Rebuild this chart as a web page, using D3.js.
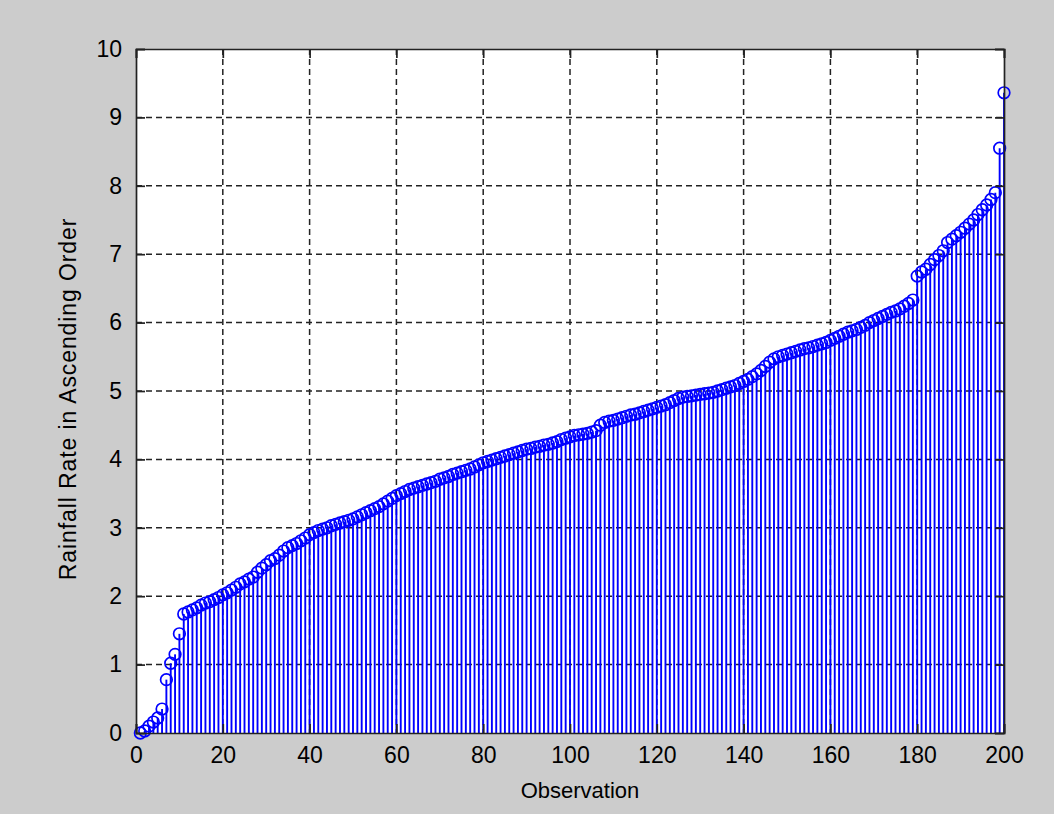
<!DOCTYPE html>
<html>
<head>
<meta charset="utf-8">
<script src="https://cdn.jsdelivr.net/npm/d3@7"></script>
<style>
  html, body { margin: 0; padding: 0; background: #cccccc; }
  svg { display: block; }
  text { font-family: "Liberation Sans", Arial, sans-serif; fill: #000; }
</style>
</head>
<body>
<svg id="chart"></svg>
<script>
// sorted rainfall rates, one per observation (1..200)
const rainfall = [
  0.00, 0.03, 0.10, 0.16, 0.22, 0.35, 0.78, 1.02, 1.15, 1.45,
  1.74, 1.77, 1.80, 1.83, 1.87, 1.90, 1.92, 1.95, 1.98, 2.02,
  2.05, 2.09, 2.13, 2.18, 2.21, 2.25, 2.28, 2.35, 2.41, 2.46,
  2.52, 2.55, 2.60, 2.66, 2.71, 2.74, 2.77, 2.81, 2.85, 2.90,
  2.93, 2.96, 2.98, 3.00, 3.03, 3.05, 3.07, 3.09, 3.11, 3.13,
  3.16, 3.19, 3.22, 3.25, 3.28, 3.31, 3.35, 3.39, 3.43, 3.47,
  3.50, 3.53, 3.56, 3.58, 3.60, 3.62, 3.64, 3.66, 3.68, 3.71,
  3.73, 3.75, 3.78, 3.80, 3.82, 3.84, 3.86, 3.89, 3.92, 3.95,
  3.97, 3.99, 4.01, 4.03, 4.05, 4.07, 4.09, 4.11, 4.13, 4.15,
  4.16, 4.18, 4.19, 4.21, 4.22, 4.24, 4.26, 4.29, 4.31, 4.33,
  4.35, 4.36, 4.37, 4.38, 4.40, 4.42, 4.50, 4.54, 4.56, 4.57,
  4.59, 4.61, 4.63, 4.65, 4.66, 4.68, 4.70, 4.72, 4.74, 4.76,
  4.78, 4.80, 4.83, 4.86, 4.89, 4.91, 4.92, 4.93, 4.94, 4.95,
  4.96, 4.97, 4.98, 5.00, 5.02, 5.04, 5.06, 5.08, 5.11, 5.14,
  5.17, 5.21, 5.25, 5.30, 5.36, 5.42, 5.47, 5.50, 5.52, 5.54,
  5.56, 5.58, 5.60, 5.62, 5.63, 5.65, 5.67, 5.69, 5.71, 5.74,
  5.77, 5.80, 5.83, 5.86, 5.88, 5.90, 5.93, 5.96, 6.00, 6.03,
  6.06, 6.09, 6.12, 6.15, 6.17, 6.20, 6.24, 6.28, 6.33, 6.68,
  6.74, 6.78, 6.85, 6.92, 6.98, 7.05, 7.17, 7.22, 7.27, 7.32,
  7.38, 7.44, 7.50, 7.58, 7.65, 7.72, 7.80, 7.90, 8.55, 9.36
]
const observations = rainfall.map((d, i) => i + 1)
const xTicks = [0, 20, 40, 60, 80, 100, 120, 140, 160, 180, 200]
const yTicks = [0, 1, 2, 3, 4, 5, 6, 7, 8, 9, 10]

const width = 1054, height = 814
const box = { left: 136, right: 1004, top: 49, bottom: 733 }
const blue = '#0000ff'

const svg = d3.select('#chart').attr('width', width).attr('height', height)

let x = d3.scaleLinear().domain([0, 200]).range([box.left, box.right])
let y = d3.scaleLinear().domain([0, 10]).range([box.bottom, box.top])

svg.append('rect')
    .attr('x', box.left).attr('y', box.top)
    .attr('width', box.right - box.left).attr('height', box.bottom - box.top)
    .attr('fill', '#fff')

// dashed grid
const grid = svg.append('g').attr('stroke', '#222').attr('stroke-width', 1.5).attr('stroke-dasharray', '6,4')
grid.selectAll('.gx').data(xTicks.slice(1, -1)).join('line')
    .attr('x1', d => x(d)).attr('x2', d => x(d))
    .attr('y1', box.top).attr('y2', box.bottom)
grid.selectAll('.gy').data(yTicks.slice(1, -1)).join('line')
    .attr('y1', d => y(d)).attr('y2', d => y(d))
    .attr('x1', box.left).attr('x2', box.right)

// stems
svg.append('g').selectAll('line').data(rainfall).join('line')
    .attr('x1', (d, i) => x(observations[i])).attr('x2', (d, i) => x(observations[i]))
    .attr('y1', y(0)).attr('y2', d => y(d))
    .attr('stroke', blue).attr('stroke-width', 1.9)

svg.append('g').selectAll('circle').data(rainfall).join('circle')
    .attr('cx', (d, i) => x(observations[i]))
    .attr('cy', d => y(d))
    .attr('r', 5.8)
    .attr('fill', 'none')
    .attr('stroke', blue)
    .attr('stroke-width', 1.7)

// axes: ticks inward on all four sides
const tickLen = 9
const axisBottom = d3.axisBottom(x).tickValues(xTicks).tickSize(-tickLen).tickPadding(tickLen + 5)
const axisLeft = d3.axisLeft(y).tickValues(yTicks).tickSize(-tickLen).tickPadding(tickLen + 5)
const axisTop = d3.axisTop(x).tickValues(xTicks).tickSize(-tickLen).tickFormat('')
const axisRight = d3.axisRight(y).tickValues(yTicks).tickSize(-tickLen).tickFormat('')

const styleAxis = g => {
    g.selectAll('path').attr('stroke', '#222').attr('stroke-width', 1.7)
    g.selectAll('line').attr('stroke', '#222').attr('stroke-width', 1.7)
    g.selectAll('text').attr('font-size', 23).attr('font-family', '"Liberation Sans", Arial, sans-serif').attr('fill', '#111')
}

svg.append('g').attr('transform', `translate(0,${box.bottom})`).call(axisBottom).call(styleAxis)
svg.append('g').attr('transform', `translate(${box.left},0)`).call(axisLeft).call(styleAxis)
svg.append('g').attr('transform', `translate(0,${box.top})`).call(axisTop).call(styleAxis)
svg.append('g').attr('transform', `translate(${box.right},0)`).call(axisRight).call(styleAxis)

svg.append('text')
    .attr('x', (box.left + box.right) / 2 + 10).attr('y', 798)
    .attr('text-anchor', 'middle').attr('font-size', 22)
    .attr('fill', '#111')
    .text('Observation')

svg.append('text')
    .attr('transform', `translate(76,${(box.top + box.bottom) / 2 + 8}) rotate(-90)`)
    .attr('text-anchor', 'middle').attr('font-size', 23)
    .attr('letter-spacing', 0.9)
    .attr('fill', '#111')
    .text('Rainfall Rate in Ascending Order')
</script>
</body>
</html>
